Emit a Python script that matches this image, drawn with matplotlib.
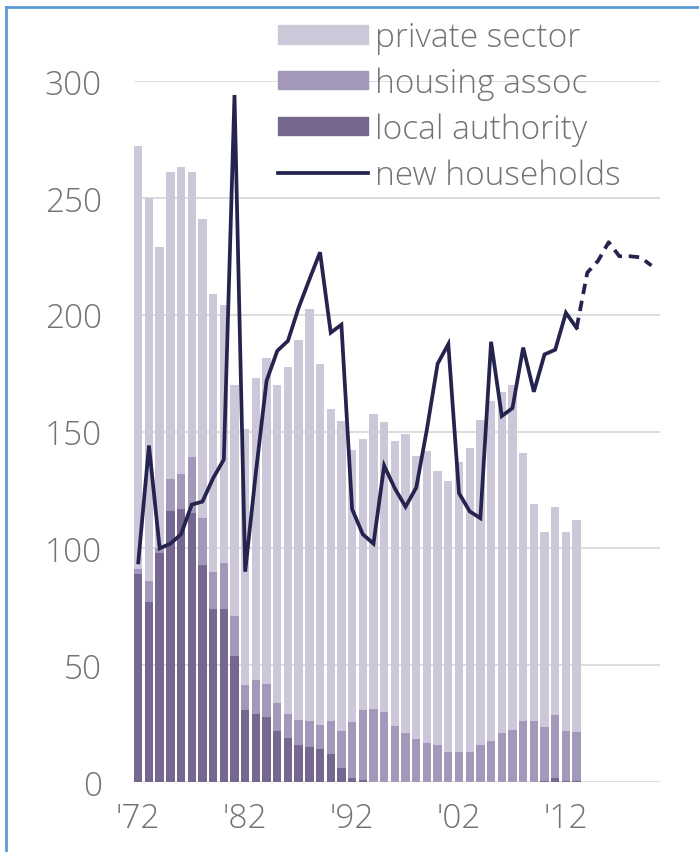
import numpy as np
import matplotlib
matplotlib.use("Agg")
from matplotlib import pyplot as plt
from matplotlib.patches import Patch
from matplotlib.lines import Line2D

#Data (thousands of dwellings / households)
years = np.arange(1972, 2014)
total = [272, 250, 229, 261, 263, 261, 241, 209, 204, 170,
         151, 173, 181.5, 170, 177.6, 189, 202.5, 179, 159.6, 154.5,
         142, 147, 157.6, 154, 145.8, 149, 139.7, 141.7, 133, 129,
         137, 143, 155, 163, 167, 170, 140.7, 119, 107, 117.8,
         107, 112]
social = [91, 86, 100, 129.5, 132, 139, 113, 90, 93.6, 71,
          41.6, 43.6, 42, 33.8, 28.9, 26.5, 26, 24.5, 26, 22,
          25.5, 30.8, 31.4, 30, 24, 21, 18.3, 16.7, 16, 13,
          12.8, 13, 16, 17.7, 21, 22.4, 26, 26, 23.5, 28.5,
          22, 21.6]
local_authority = [89, 77, 98, 116, 117, 115, 93, 74, 74, 54,
                   31, 29, 28, 22, 19, 16, 15, 14, 12, 6,
                   1.5, 0.8, 0.2, 0.2, 0.2, 0.2, 0.2, 0.2, 0.2, 0.2,
                   0.2, 0.2, 0.2, 0.2, 0.2, 0.2, 0.2, 0.2, 0.5, 1.5,
                   0.5, 0.3]
housing_assoc = [s - la for s, la in zip(social, local_authority)]
private_sector = [t - s for t, s in zip(total, social)]

hh_years = np.arange(1972, 2014)
new_households = [94, 144, 100, 102, 106, 118.7, 120, 130, 138, 294,
                  90, 132.5, 171.7, 184.5, 188.8, 203, 215, 226.7, 192.3, 195.7,
                  116.8, 106, 102, 135.4, 125.6, 117.8, 126, 151, 179, 187.4,
                  123.6, 115.8, 112.9, 188.4, 156.6, 160, 185.9, 167, 183, 185,
                  200.8, 194.3]
proj_years = np.arange(2013, 2021)
projected = [194.3, 218, 223, 231, 225, 225, 224.5, 221]

yticks = [0, 50, 100, 150, 200, 250, 300]
xtick_years = [1972, 1982, 1992, 2002, 2012]
xtick_labels = ["'72", "'82", "'92", "'02", "'12"]

#Styles
c_private = "#cdc8d9"
c_ha = "#a398b9"
c_la = "#75678f"
c_line = "#25244e"
c_text = "#737373"
plt.rcParams['font.family'] = ['Open Sans', 'DejaVu Sans']

fig = plt.figure(figsize=(6.99, 8.53), dpi=100)
ax = fig.add_axes([134 / 699, 1 - 783 / 853, 526 / 699, 701 / 853])

#Stacked bars
w = 0.78
ax.bar(years, local_authority, width=w, color=c_la, zorder=2)
ax.bar(years, housing_assoc, width=w, bottom=local_authority, color=c_ha, zorder=2)
ax.bar(years, private_sector, width=w, bottom=social, color=c_private, zorder=2)

#Households line, solid then dashed projection
ax.plot(hh_years, new_households, color=c_line, lw=2.7, zorder=3, clip_on=False,
        solid_joinstyle='miter')
ax.plot(proj_years, projected, color=c_line, lw=2.7, zorder=3, clip_on=False,
        linestyle=(0, (2.8, 1.8)))

ax.set_xlim(1971.6, 2020.8)
ax.set_ylim(0, 300)
ax.set_yticks(yticks)
ax.set_xticks(xtick_years)
ax.set_xticklabels(xtick_labels)
for s in ax.spines.values():
    s.set_visible(False)
ax.grid(axis='y', color='#dadada', lw=1.3, zorder=0)
ax.tick_params(axis='both', length=0, labelsize=24, labelcolor=c_text)
ax.tick_params(axis='y', pad=23)
ax.tick_params(axis='x', pad=14)
for lab in ax.get_xticklabels() + ax.get_yticklabels():
    lab.set_fontweight('light')

handles = [Patch(color=c_private), Patch(color=c_ha), Patch(color=c_la),
           Line2D([], [], color=c_line, lw=2.7)]
labels = ['private sector', 'housing assoc', 'local authority', 'new households']
leg = ax.legend(handles, labels, loc='upper left', bbox_to_anchor=(0.274, 1.086),
                frameon=False, fontsize=24, handlelength=2.7, handleheight=0.48,
                handletextpad=0.2, labelspacing=0.37, borderpad=0, borderaxespad=0)
for t in leg.get_texts():
    t.set_color(c_text)
    t.set_fontweight('light')

#Blue frame edges of the screenshot
fig.add_artist(Line2D([6 / 699, 1], [1 - 8 / 853, 1 - 8 / 853], transform=fig.transFigure,
                      color='#5b9bd5', lw=2))
fig.add_artist(Line2D([6 / 699, 6 / 699], [0, 1 - 8 / 853], transform=fig.transFigure,
                      color='#5b9bd5', lw=2))

fig.savefig("out.png", dpi=100)
